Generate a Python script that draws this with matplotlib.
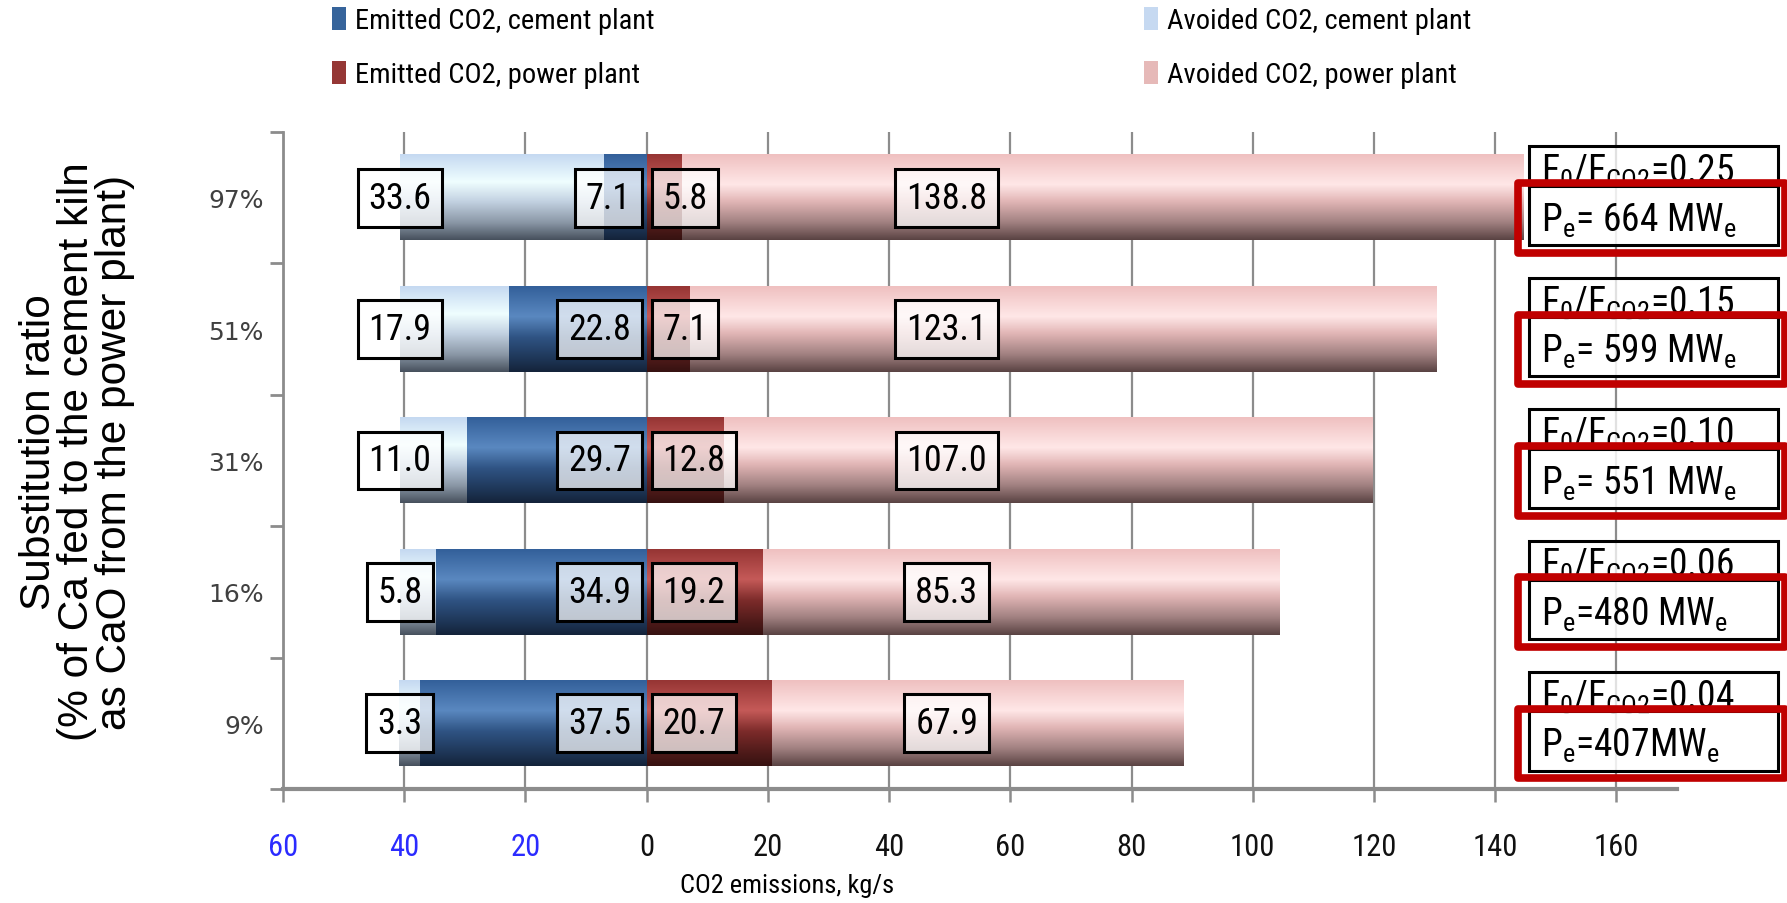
import numpy as np
import matplotlib
matplotlib.use("Agg")
import matplotlib.pyplot as plt
from matplotlib import font_manager
from matplotlib.colors import LinearSegmentedColormap
from matplotlib.patches import Rectangle, Patch

installed = {f.name for f in font_manager.fontManager.ttflist}
NARROW = next((n for n in ["Liberation Sans Narrow", "Roboto Condensed", "Lato"]
               if n in installed), "DejaVu Sans")
ARIAL = "Liberation Sans" if "Liberation Sans" in installed else "DejaVu Sans"

plt.rcParams["font.family"] = [NARROW, "DejaVu Sans"]
plt.rcParams["mathtext.fontset"] = "custom"
plt.rcParams["mathtext.rm"] = NARROW
plt.rcParams["mathtext.it"] = NARROW + ":italic"
plt.rcParams["mathtext.bf"] = NARROW + ":bold"

# ---- data (top row first) ----
ratios = ["97%", "51%", "31%", "16%", "9%"]
avoided_cement = [33.6, 17.9, 11.0, 5.8, 3.3]
emitted_cement = [7.1, 22.8, 29.7, 34.9, 37.5]
emitted_power = [5.8, 7.1, 12.8, 19.2, 20.7]
avoided_power = [138.8, 123.1, 107.0, 85.3, 67.9]
f_ratio = ["0.25", "0.15", "0.10", "0.06", "0.04"]
pe_text = ["= 664 MW", "= 599 MW", "= 551 MW", "=480 MW", "=407MW"]

x_ticks = [-60, -40, -20, 0, 20, 40, 60, 80, 100, 120, 140, 160]
x_ticklabels = ["60", "40", "20", "0", "20", "40", "60", "80", "100", "120", "140", "160"]

legend_labels = ["Emitted CO2, cement plant", "Emitted CO2, power plant",
                 "Avoided CO2, cement plant", "Avoided CO2, power plant"]

# flat colours for the legend, shaded stops for the bars
solid = {"ec": "#36649b", "ep": "#953735", "ac": "#c6d9f1", "ap": "#e6b9b8"}
stops = {
    "ac": [(0.0, "#c5d9f1"), (0.32, "#effeff"), (0.55, "#c3d2e2"), (0.8, "#8a97a6"), (1.0, "#47515d")],
    "ec": [(0.0, "#33609a"), (0.35, "#5a88c0"), (0.6, "#2f5383"), (0.85, "#1e3657"), (1.0, "#14233a")],
    "ep": [(0.0, "#963534"), (0.35, "#c55a58"), (0.6, "#7c2b2a"), (0.85, "#4e1a19"), (1.0, "#361211")],
    "ap": [(0.0, "#efc0c0"), (0.35, "#ffe7e7"), (0.55, "#e2b6b6"), (0.8, "#a08080"), (1.0, "#5a4343")],
}

BAR_H = 0.65


def shaded_bar(ax, left, width, y, key):
    cmap = LinearSegmentedColormap.from_list(key, stops[key])
    col = cmap(np.linspace(0, 1, 128))[:, None, :3]
    img = np.repeat(col, 2, axis=1)
    ax.imshow(img, extent=(left, left + width, y - BAR_H / 2, y + BAR_H / 2),
              aspect="auto", interpolation="bilinear", origin="upper", zorder=1)


fig = plt.figure(figsize=(17.87, 9.04), dpi=100)
ax = fig.add_axes([283 / 1787, 1 - 790 / 904, 1394 / 1787, 657 / 904])

n = len(ratios)
ypos = [n - 1 - i for i in range(n)]

box = dict(boxstyle="square,pad=0.3", fc=(1, 1, 1, 0.72), ec="black", lw=2.2)
for i in range(n):
    y = ypos[i]
    ec, ac, ep, ap = emitted_cement[i], avoided_cement[i], emitted_power[i], avoided_power[i]
    shaded_bar(ax, 0, -ec, y, "ec")
    shaded_bar(ax, -ec, -ac, y, "ac")
    shaded_bar(ax, 0, ep, y, "ep")
    shaded_bar(ax, ep, ap, y, "ap")

    ax.text(-(ec + ac), y, f"{ac:.1f}", ha="center", va="center", fontsize=26, bbox=box, zorder=3)
    ax.text(-2.6, y, f"{ec:.1f}", ha="right", va="center", fontsize=26, bbox=box, zorder=3)
    ax.text(2.6, y, f"{ep:.1f}", ha="left", va="center", fontsize=26, bbox=box, zorder=3)
    ax.text(49.5, y, f"{ap:.1f}", ha="center", va="center", fontsize=26, bbox=box, zorder=3)

    # plant ratio / power output boxes on the right
    ax.add_patch(Rectangle((145.6, y + 0.09), 41.0, 0.30, fc=(1, 1, 1, 0.75), ec="black",
                           lw=2.2, clip_on=False, zorder=4))
    ax.text(147.6, y + 0.12, r"F$_\mathrm{0}$/F$_\mathrm{CO2}$=" + f_ratio[i], fontsize=27,
            va="baseline", ha="left", clip_on=False, zorder=5)
    ax.add_patch(Rectangle((145.6, y - 0.36), 41.0, 0.45, fc=(1, 1, 1, 0.85), ec="black",
                           lw=2.2, clip_on=False, zorder=6))
    ax.text(147.6, y - 0.25, r"P$_\mathrm{e}$" + pe_text[i] + r"$_\mathrm{e}$", fontsize=27,
            va="baseline", ha="left", clip_on=False, zorder=7)
    ax.add_patch(Rectangle((143.8, y - 0.42), 44.1, 0.53, fill=False, ec="#c00000",
                           lw=5.5, joinstyle="round", clip_on=False, zorder=8))

ax.set_xlim(-60, 170)
ax.set_ylim(-0.5, n - 0.5)

ax.set_axisbelow(True)
ax.grid(axis="x", color="#8c8c8c", lw=1.6)
ax.grid(axis="y", visible=False)

for s in ["top", "right"]:
    ax.spines[s].set_visible(False)
ax.spines["left"].set_color("#8c8c8c")
ax.spines["left"].set_linewidth(2)
ax.spines["bottom"].set_color("#8c8c8c")
ax.spines["bottom"].set_linewidth(3)

ax.set_xticks(x_ticks)
ax.set_xticklabels(x_ticklabels)
for lbl, v in zip(ax.get_xticklabels(), x_ticks):
    lbl.set_color("#2b2bff" if v < 0 else "#111111")
ax.tick_params(axis="x", length=9, width=1.8, color="#8c8c8c", pad=22, labelsize=22)

ax.set_yticks(ypos)
ax.set_yticklabels(ratios)
ax.set_yticks(np.arange(-0.5, n, 1), minor=True)
ax.tick_params(axis="y", which="major", length=0, pad=14, labelsize=18, labelcolor="#404040")
ax.tick_params(axis="y", which="minor", length=9.5, width=2, color="#8c8c8c")
for lbl in ax.get_yticklabels():
    lbl.set_fontfamily("DejaVu Sans")

fig.text(77 / 1787, 1 - 452 / 904,
         "Substitution ratio\n(% of Ca fed to the cement kiln\nas CaO from the power plant)",
         rotation=90, ha="center", va="center", multialignment="center",
         fontsize=30.5, family=ARIAL, linespacing=0.92)
fig.text(787 / 1787, 1 - 886 / 904, "CO2 emissions, kg/s", ha="center", va="center", fontsize=19)

leg_kw = dict(loc="upper left", frameon=False, fontsize=20.5, handlelength=0.5,
              handleheight=0.85, handletextpad=0.3, labelspacing=0.95, borderpad=0,
              borderaxespad=0)
fig.legend(handles=[Patch(fc=solid["ec"], ec="none"), Patch(fc=solid["ep"], ec="none")],
           labels=legend_labels[:2], bbox_to_anchor=(332 / 1787, 1 - 8 / 904), **leg_kw)
fig.legend(handles=[Patch(fc=solid["ac"], ec="none"), Patch(fc=solid["ap"], ec="none")],
           labels=legend_labels[2:], bbox_to_anchor=(1144 / 1787, 1 - 8 / 904), **leg_kw)

fig.savefig("out.png", dpi=100)
